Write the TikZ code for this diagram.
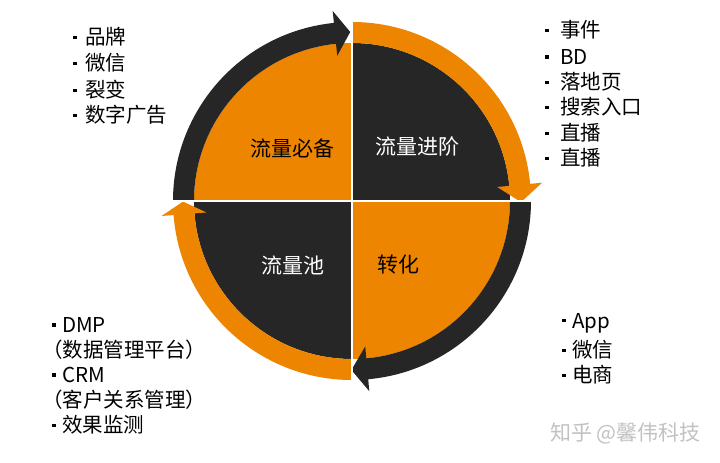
\documentclass[tikz,border=0pt]{standalone}
\usepackage{fontspec}
\setmainfont{Noto Sans CJK SC}
\definecolor{org}{HTML}{EE8500}
\definecolor{drk}{HTML}{262626}
\definecolor{wm}{HTML}{C2C2C2}
\newcommand\ringarr[4]{%
  \fill[#1] (#2:158pt) arc[start angle=#2, end angle=#3, radius=158pt]
    -- (#3:146pt) -- (#4:169pt) -- (#3:191pt) -- (#3:179pt)
    arc[start angle=#3, end angle=#2, radius=179pt] -- cycle;}
\newcommand\bul[1]{\makebox[#1][l]{\raisebox{0.28em}{\rule{3.3pt}{3.3pt}}}}
\tikzset{
  quadlbl/.style={font=\fontsize{21}{25}\selectfont, inner sep=0pt},
  item/.style={font=\fontsize{20.5}{24}\selectfont, anchor=west, inner sep=0pt},
  sep/.style={white, line width=2pt}
}
\begin{document}
\begin{tikzpicture}[x=1pt,y=1pt]
\useasboundingbox (0,0) rectangle (720,463);
\fill[white] (0,0) rectangle (720,463);
\coordinate (C) at (352,262);
\begin{scope}[shift={(C)}]
  % quadrants
  \fill[org] (0,0) -- (90:158pt) arc[start angle=90, end angle=180, radius=158pt] -- cycle;
  \fill[drk] (0,0) -- (0:158pt) arc[start angle=0, end angle=90, radius=158pt] -- cycle;
  \fill[drk] (0,0) -- (180:158pt) arc[start angle=180, end angle=270, radius=158pt] -- cycle;
  \fill[org] (0,0) -- (270:158pt) arc[start angle=270, end angle=360, radius=158pt] -- cycle;
  % ring arrows
  \ringarr{drk}{180}{95.8}{90.6}
  \ringarr{org}{90}{5.5}{-0.4}
  \ringarr{drk}{0}{-84.8}{-90.2}
  \ringarr{org}{270}{184.5}{180.2}
  % separators
  \coordinate (t) at (90:180pt);
  \coordinate (b) at (270:180pt);
  \coordinate (l) at (180:180pt);
  \coordinate (r) at (0:180pt);
  \draw[sep] (t) -- (b);
  \draw[sep] (l) -- (r);
\end{scope}
% quadrant labels
\node[quadlbl, text=black] (q1) at (292,315) {流量必备};
\node[quadlbl, text=white] (q2) at (417,316) {流量进阶};
\node[quadlbl, text=white] (q3) at (293,198) {流量池};
\node[quadlbl, text=black] (q4) at (398,198) {转化};
% top-left list
\node[item] (a1) at (73,426) {\bul{12pt}品牌};
\node[item] (a2) at (73,400) {\bul{12pt}微信};
\node[item] (a3) at (73,373) {\bul{12pt}裂变};
\node[item] (a4) at (73,348) {\bul{12pt}数字广告};
% top-right list
\node[item] (b1) at (545,433) {\bul{15pt}事件};
\node[item] (b2) at (545,406) {\bul{15pt}BD};
\node[item] (b3) at (545,381) {\bul{15pt}落地页};
\node[item] (b4) at (545,356) {\bul{15pt}搜索入口};
\node[item] (b5) at (545,330) {\bul{15pt}直播};
\node[item] (b6) at (545,305) {\bul{15pt}直播};
% bottom-left list
\node[item] (c1) at (52,138) {\bul{10pt}DMP};
\node[item] (c2) at (42,113) {（数据管理平台）};
\node[item] (c3) at (52,88) {\bul{10pt}CRM};
\node[item] (c4) at (42,63) {（客户关系管理）};
\node[item] (c5) at (52,38) {\bul{10pt}效果监测};
% bottom-right list
\node[item] (d1) at (562,140) {\bul{10pt}App};
\node[item] (d2) at (562,113) {\bul{10pt}微信};
\node[item] (d3) at (562,88) {\bul{10pt}电商};
% watermark
\node[anchor=west, inner sep=0pt, text=wm, font=\fontsize{21}{24}\selectfont] (wmk) at (550,30) {知乎 @馨伟科技};
\end{tikzpicture}
\end{document}
